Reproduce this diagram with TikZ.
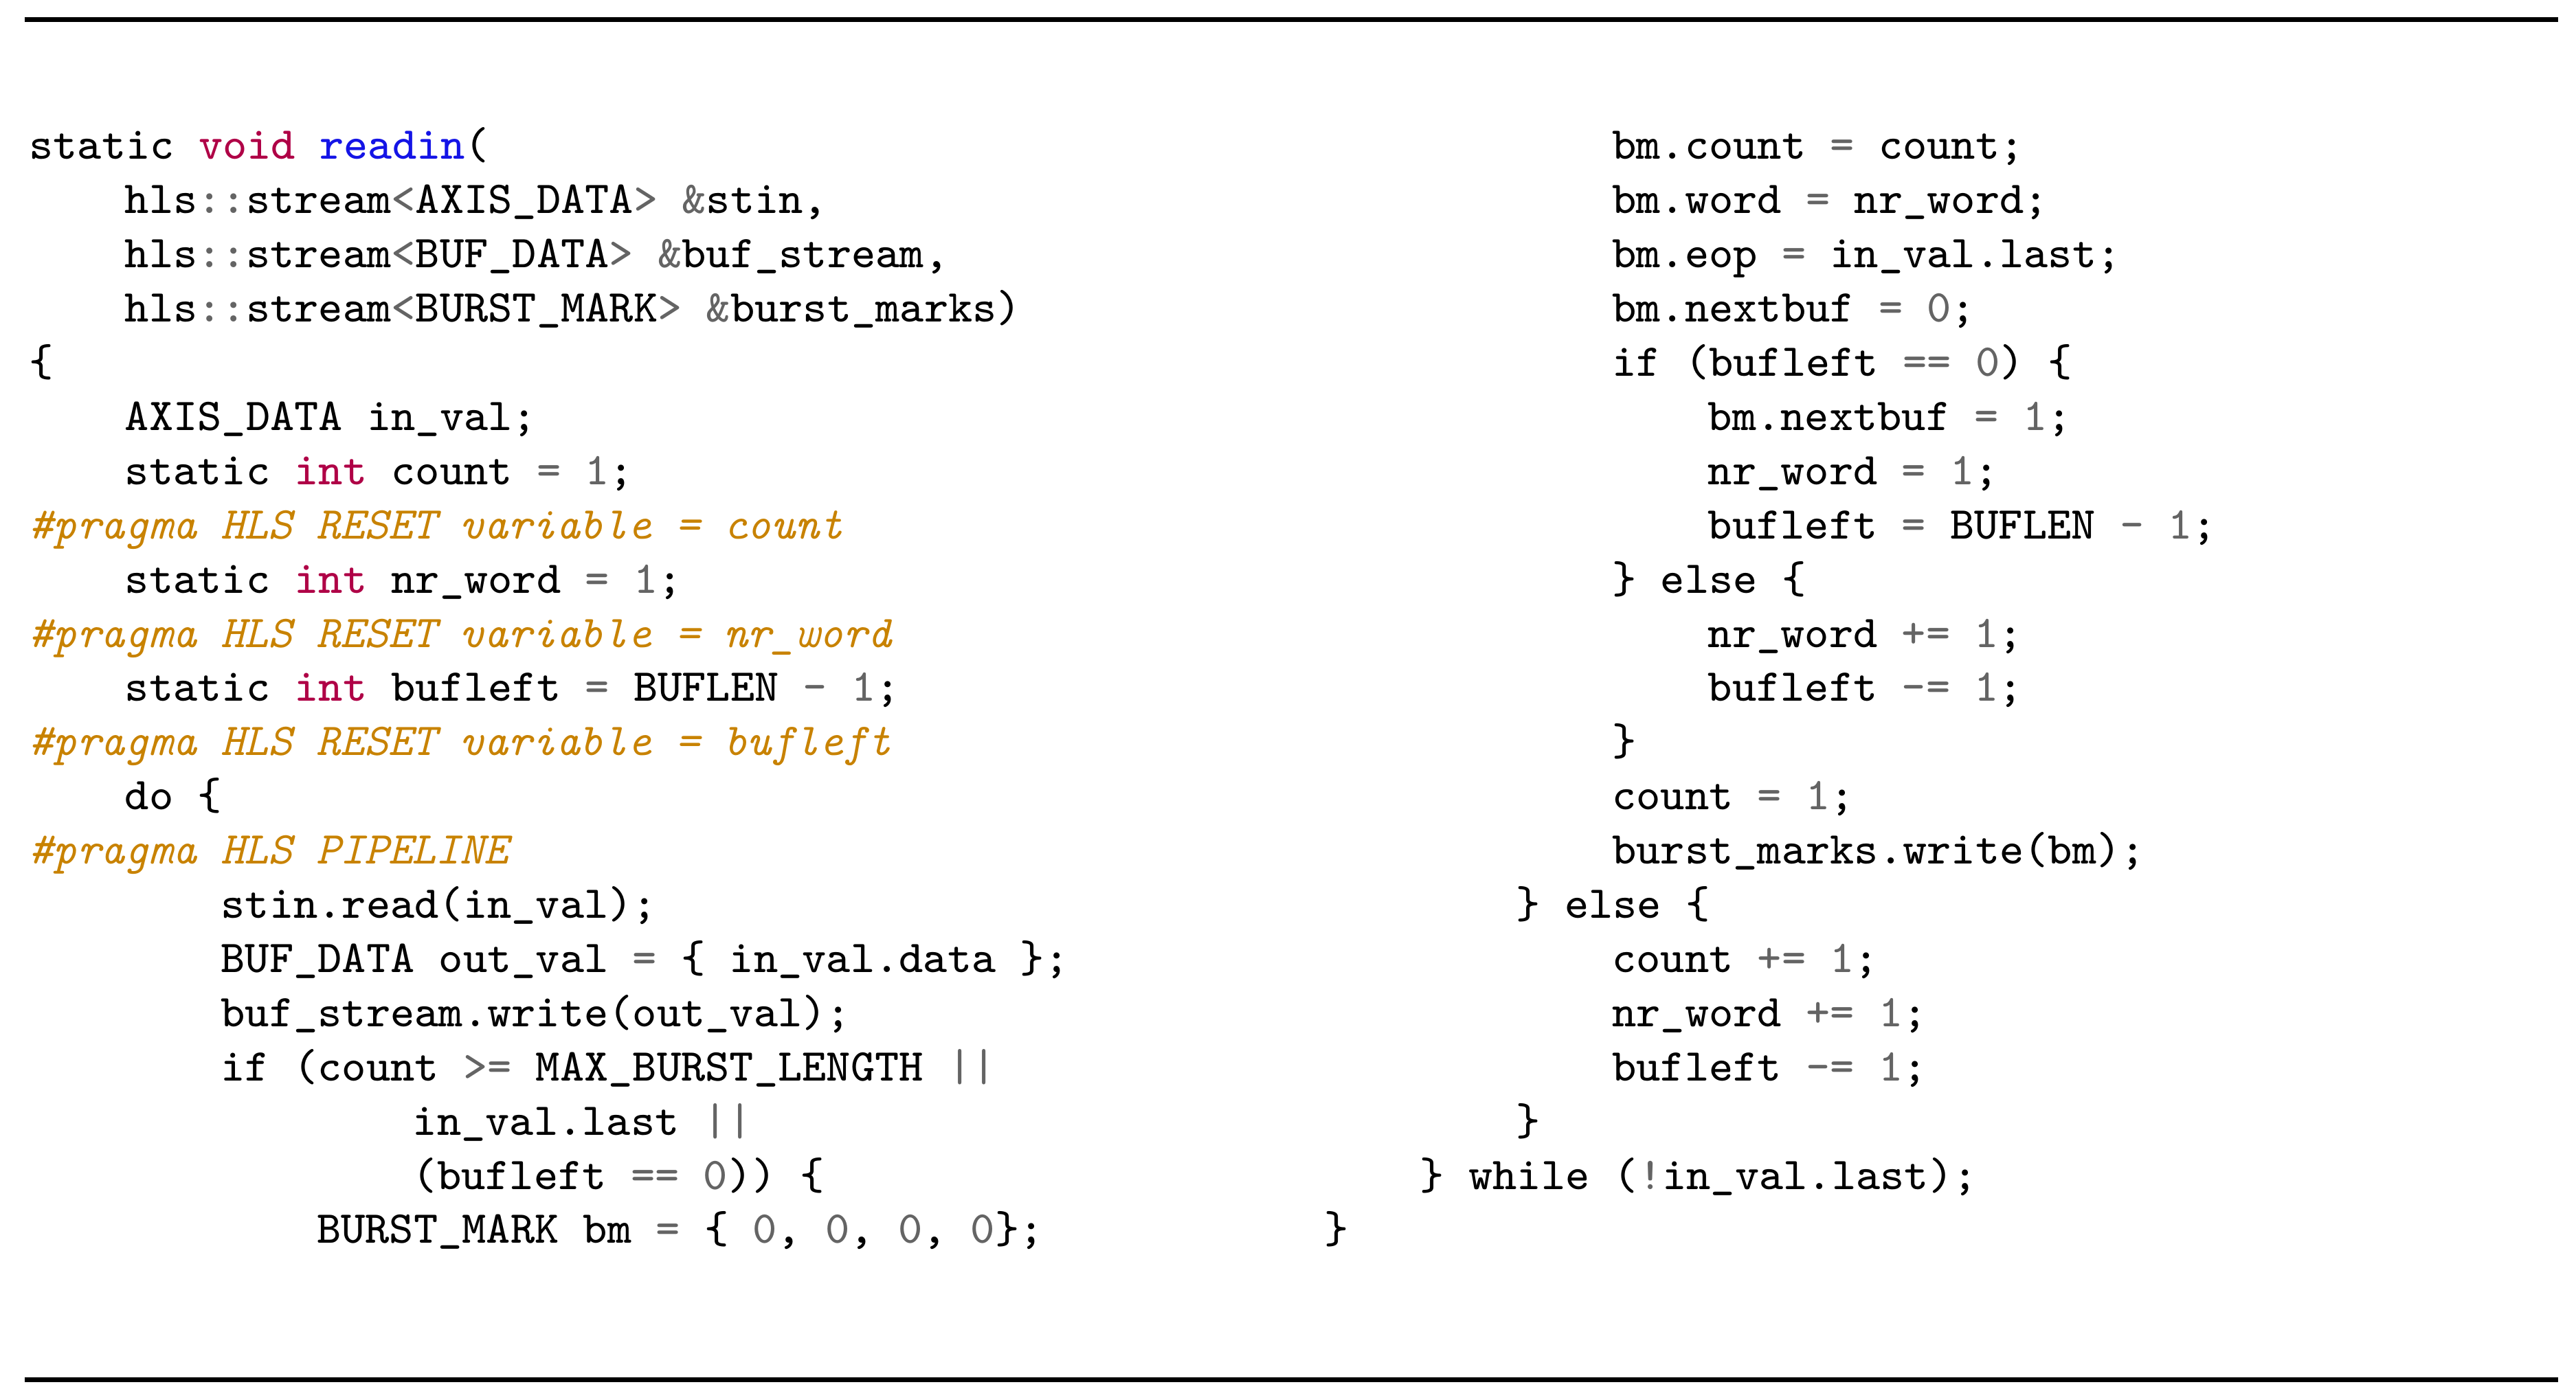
\documentclass[tikz,border=0pt]{standalone}
\usepackage{fontspec}
\setmonofont{Latin Modern Mono}
\definecolor{kwc}{RGB}{175,0,70}
\definecolor{fnc}{RGB}{20,20,230}
\definecolor{prc}{RGB}{200,130,0}
\definecolor{opc}{RGB}{100,100,100}
\newcommand\kw[1]{\textcolor{kwc}{#1}}
\newcommand\fn[1]{\textcolor{fnc}{#1}}
\newcommand\pr[1]{\textcolor{prc}{\itshape #1}}
\newcommand\op[1]{\textcolor{opc}{#1}}
\begin{document}
\begin{tikzpicture}[x=0.1mm,y=-0.1mm,
  code/.style={anchor=base west,inner sep=0pt,font=\ttfamily\fontsize{7.9}{9.4}\selectfont},
  rulestyle/.style={line width=0.3mm}]
\useasboundingbox (0,0) rectangle (1568,852);
\newcommand\cl[4]{\node[code] (#1) at ({17+14.6*#2},{97+33*#3}) {#4};}
\coordinate (t1) at (15,12); \coordinate (t2) at (1557,12);
\coordinate (b1) at (15,840); \coordinate (b2) at (1557,840);
\draw[rulestyle] (t1) -- (t2);
\draw[rulestyle] (b1) -- (b2);
\cl{a0}{0}{0}{static \kw{void} \fn{readin}(}
\cl{a1}{4}{1}{hls\op{::}stream\op{<}AXIS\_DATA\op{>} \op{\&}stin,}
\cl{a2}{4}{2}{hls\op{::}stream\op{<}BUF\_DATA\op{>} \op{\&}buf\_stream,}
\cl{a3}{4}{3}{hls\op{::}stream\op{<}BURST\_MARK\op{>} \op{\&}burst\_marks)}
\cl{a4}{0}{4}{\{}
\cl{a5}{4}{5}{AXIS\_DATA in\_val;}
\cl{a6}{4}{6}{static \kw{int} count \op{=} \op{1};}
\cl{a7}{0}{7}{\pr{\#pragma HLS RESET variable = count}}
\cl{a8}{4}{8}{static \kw{int} nr\_word \op{=} \op{1};}
\cl{a9}{0}{9}{\pr{\#pragma HLS RESET variable = nr\_word}}
\cl{a10}{4}{10}{static \kw{int} bufleft \op{=} BUFLEN \op{-} \op{1};}
\cl{a11}{0}{11}{\pr{\#pragma HLS RESET variable = bufleft}}
\cl{a12}{4}{12}{do \{}
\cl{a13}{0}{13}{\pr{\#pragma HLS PIPELINE}}
\cl{a14}{8}{14}{stin.read(in\_val);}
\cl{a15}{8}{15}{BUF\_DATA out\_val \op{=} \{ in\_val.data \};}
\cl{a16}{8}{16}{buf\_stream.write(out\_val);}
\cl{a17}{8}{17}{if (count \op{>=} MAX\_BURST\_LENGTH \op{||}}
\cl{a18}{16}{18}{in\_val.last \op{||}}
\cl{a19}{16}{19}{(bufleft \op{==} \op{0})) \{}
\cl{a20}{12}{20}{BURST\_MARK bm \op{=} \{ \op{0}, \op{0}, \op{0}, \op{0}\};}
\cl{b0}{66}{0}{bm.count \op{=} count;}
\cl{b1}{66}{1}{bm.word \op{=} nr\_word;}
\cl{b2}{66}{2}{bm.eop \op{=} in\_val.last;}
\cl{b3}{66}{3}{bm.nextbuf \op{=} \op{0};}
\cl{b4}{66}{4}{if (bufleft \op{==} \op{0}) \{}
\cl{b5}{70}{5}{bm.nextbuf \op{=} \op{1};}
\cl{b6}{70}{6}{nr\_word \op{=} \op{1};}
\cl{b7}{70}{7}{bufleft \op{=} BUFLEN \op{-} \op{1};}
\cl{b8}{66}{8}{\} else \{}
\cl{b9}{70}{9}{nr\_word \op{+=} \op{1};}
\cl{b10}{70}{10}{bufleft \op{-=} \op{1};}
\cl{b11}{66}{11}{\}}
\cl{b12}{66}{12}{count \op{=} \op{1};}
\cl{b13}{66}{13}{burst\_marks.write(bm);}
\cl{b14}{62}{14}{\} else \{}
\cl{b15}{66}{15}{count \op{+=} \op{1};}
\cl{b16}{66}{16}{nr\_word \op{+=} \op{1};}
\cl{b17}{66}{17}{bufleft \op{-=} \op{1};}
\cl{b18}{62}{18}{\}}
\cl{b19}{58}{19}{\} while (\op{!}in\_val.last);}
\cl{b20}{54}{20}{\}}
\end{tikzpicture}
\end{document}
